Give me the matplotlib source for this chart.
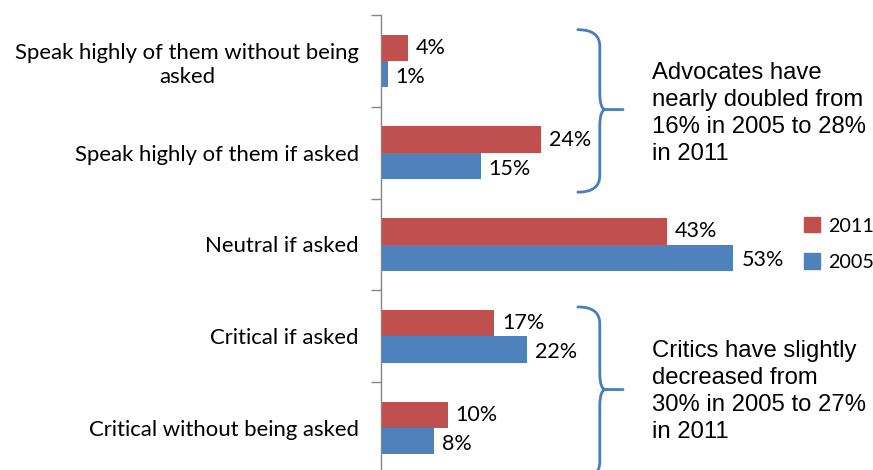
import matplotlib
matplotlib.use("Agg")
import matplotlib.pyplot as plt
from matplotlib.path import Path
from matplotlib.patches import PathPatch, Patch
import numpy as np

categories = [
    "Speak highly of them without being\nasked",
    "Speak highly of them if asked",
    "Neutral if asked",
    "Critical if asked",
    "Critical without being asked",
]
vals_2011 = [4, 24, 43, 17, 10]
vals_2005 = [1, 15, 53, 22, 8]
series_names = ["2011", "2005"]

advocates_note = "Advocates have\nnearly doubled from\n16% in 2005 to 28%\nin 2011"
critics_note = "Critics have slightly\ndecreased from\n30% in 2005 to 27%\nin 2011"

RED = "#C0504D"
BLUE = "#4F81BD"
BRACE = "#4A7EBB"
CAL = "Lato"
ARIAL = "Liberation Sans"

W, H = 873, 470
fig = plt.figure(figsize=(W / 100, H / 100), dpi=100)
ax = fig.add_axes([381 / W, 1 - 474 / H, 399 / W, 459 / H])

y = np.arange(len(categories))
bh = 0.287
ax.barh(y - bh / 2, vals_2011, height=bh, color=RED, edgecolor="none")
ax.barh(y + bh / 2, vals_2005, height=bh, color=BLUE, edgecolor="none")

for yi, v in zip(y, vals_2011):
    ax.text(v + 1.2, yi - bh / 2, f"{v}%", va="center", ha="left",
            fontsize=15.5, family=CAL, color="#000000")
for yi, v in zip(y, vals_2005):
    ax.text(v + 1.2, yi + bh / 2 + 0.03, f"{v}%", va="center", ha="left",
            fontsize=15.5, family=CAL, color="#000000")

ax.set_xlim(0, 60)
ax.set_ylim(len(categories) - 0.5, -0.5)

for s in ["top", "right", "bottom"]:
    ax.spines[s].set_visible(False)
ax.spines["left"].set_color("#868686")
ax.spines["left"].set_linewidth(1)
ax.set_xticks([])

# tick marks between categories, labels at category centers
ax.set_yticks(np.arange(-0.5, len(categories), 1.0))
ax.set_yticklabels([])
ax.tick_params(axis="y", which="major", length=7, color="#868686", width=1)
ax.set_yticks(y, minor=True)
ax.set_yticklabels(categories, minor=True, fontsize=15.9, family=CAL,
                   multialignment="center", linespacing=1.25)
ax.tick_params(axis="y", which="minor", length=0, pad=16)


def brace(x0, x1, x2, ytop, ymid, ybot):
    r = 0.18
    verts = [
        (x0, ytop), (x1, ytop), (x1, ytop + r),
        (x1, ymid - r), (x1, ymid), (x1 + 0.9, ymid),
        (x2, ymid),
        (x1 + 0.9, ymid), (x1, ymid), (x1, ymid + r),
        (x1, ybot - r), (x1, ybot), (x0, ybot),
    ]
    codes = [Path.MOVETO, Path.CURVE3, Path.CURVE3,
             Path.LINETO, Path.CURVE3, Path.CURVE3,
             Path.LINETO,
             Path.MOVETO, Path.CURVE3, Path.CURVE3,
             Path.LINETO, Path.CURVE3, Path.CURVE3]
    ax.add_patch(PathPatch(Path(verts, codes), fill=False, edgecolor=BRACE,
                           linewidth=2, clip_on=False, capstyle="round"))


brace(29.6, 32.9, 36.4, -0.34, 0.53, 1.43)
brace(29.6, 32.9, 36.4, 2.68, 3.58, 4.55)

ax.text(40.8, 0.015, advocates_note, va="top", ha="left", fontsize=17.2,
        family=ARIAL, linespacing=1.29, color="#000000")
ax.text(40.8, 3.04, critics_note, va="top", ha="left", fontsize=17.2,
        family=ARIAL, linespacing=1.29, color="#000000")

handles = [Patch(color=RED), Patch(color=BLUE)]
fig.legend(handles, series_names, loc="upper left",
           bbox_to_anchor=(804 / W, 1 - 217 / H), frameon=False,
           borderpad=0, borderaxespad=0,
           handlelength=0.82, handleheight=0.82, handletextpad=0.38,
           labelspacing=0.95, prop={"family": CAL, "size": 14.2})

fig.savefig("out.png", dpi=100)
